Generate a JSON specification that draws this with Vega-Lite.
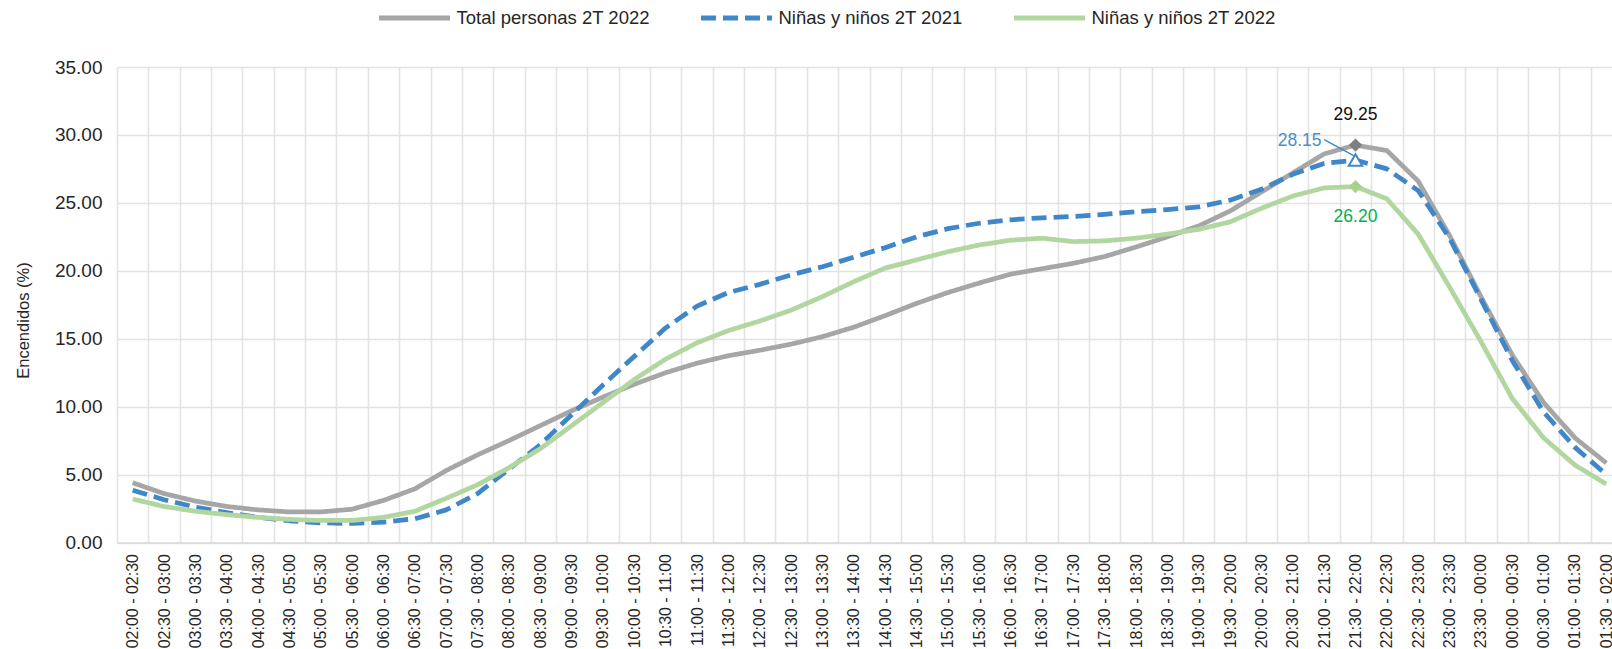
{
  "$schema": "https://vega.github.io/schema/vega-lite/v6.json",
  "width": 1495,
  "height": 475.5,
  "autosize": {"type": "none"},
  "padding": {"left": 117, "top": 67, "right": 0, "bottom": 106.5},
  "background": "white",
  "config": {
    "view": {"stroke": null},
    "font": "Liberation Sans",
    "legend": {
      "orient": "none",
      "legendX": 259.5,
      "legendY": -87,
      "direction": "horizontal",
      "columns": 3,
      "columnPadding": 40,
      "symbolType": "stroke",
      "symbolSize": 5041,
      "symbolStrokeWidth": 5,
      "labelFont": "Liberation Sans",
      "labelFontSize": 18.5,
      "labelColor": "#262626",
      "labelLimit": 400,
      "labelOffset": 4,
      "padding": 0
    }
  },
  "datasets": {
    "series": [
      {"t": "02:00 - 02:30", "s": "Total personas 2T 2022", "v": 4.40},
      {"t": "02:30 - 03:00", "s": "Total personas 2T 2022", "v": 3.60},
      {"t": "03:00 - 03:30", "s": "Total personas 2T 2022", "v": 3.05},
      {"t": "03:30 - 04:00", "s": "Total personas 2T 2022", "v": 2.65},
      {"t": "04:00 - 04:30", "s": "Total personas 2T 2022", "v": 2.40},
      {"t": "04:30 - 05:00", "s": "Total personas 2T 2022", "v": 2.25},
      {"t": "05:00 - 05:30", "s": "Total personas 2T 2022", "v": 2.25},
      {"t": "05:30 - 06:00", "s": "Total personas 2T 2022", "v": 2.45},
      {"t": "06:00 - 06:30", "s": "Total personas 2T 2022", "v": 3.10},
      {"t": "06:30 - 07:00", "s": "Total personas 2T 2022", "v": 3.95},
      {"t": "07:00 - 07:30", "s": "Total personas 2T 2022", "v": 5.30},
      {"t": "07:30 - 08:00", "s": "Total personas 2T 2022", "v": 6.45},
      {"t": "08:00 - 08:30", "s": "Total personas 2T 2022", "v": 7.50},
      {"t": "08:30 - 09:00", "s": "Total personas 2T 2022", "v": 8.60},
      {"t": "09:00 - 09:30", "s": "Total personas 2T 2022", "v": 9.70},
      {"t": "09:30 - 10:00", "s": "Total personas 2T 2022", "v": 10.70},
      {"t": "10:00 - 10:30", "s": "Total personas 2T 2022", "v": 11.65},
      {"t": "10:30 - 11:00", "s": "Total personas 2T 2022", "v": 12.50},
      {"t": "11:00 - 11:30", "s": "Total personas 2T 2022", "v": 13.20},
      {"t": "11:30 - 12:00", "s": "Total personas 2T 2022", "v": 13.75},
      {"t": "12:00 - 12:30", "s": "Total personas 2T 2022", "v": 14.15},
      {"t": "12:30 - 13:00", "s": "Total personas 2T 2022", "v": 14.60},
      {"t": "13:00 - 13:30", "s": "Total personas 2T 2022", "v": 15.15},
      {"t": "13:30 - 14:00", "s": "Total personas 2T 2022", "v": 15.85},
      {"t": "14:00 - 14:30", "s": "Total personas 2T 2022", "v": 16.70},
      {"t": "14:30 - 15:00", "s": "Total personas 2T 2022", "v": 17.60},
      {"t": "15:00 - 15:30", "s": "Total personas 2T 2022", "v": 18.40},
      {"t": "15:30 - 16:00", "s": "Total personas 2T 2022", "v": 19.10},
      {"t": "16:00 - 16:30", "s": "Total personas 2T 2022", "v": 19.75},
      {"t": "16:30 - 17:00", "s": "Total personas 2T 2022", "v": 20.15},
      {"t": "17:00 - 17:30", "s": "Total personas 2T 2022", "v": 20.55},
      {"t": "17:30 - 18:00", "s": "Total personas 2T 2022", "v": 21.05},
      {"t": "18:00 - 18:30", "s": "Total personas 2T 2022", "v": 21.75},
      {"t": "18:30 - 19:00", "s": "Total personas 2T 2022", "v": 22.50},
      {"t": "19:00 - 19:30", "s": "Total personas 2T 2022", "v": 23.30},
      {"t": "19:30 - 20:00", "s": "Total personas 2T 2022", "v": 24.40},
      {"t": "20:00 - 20:30", "s": "Total personas 2T 2022", "v": 25.80},
      {"t": "20:30 - 21:00", "s": "Total personas 2T 2022", "v": 27.20},
      {"t": "21:00 - 21:30", "s": "Total personas 2T 2022", "v": 28.60},
      {"t": "21:30 - 22:00", "s": "Total personas 2T 2022", "v": 29.25},
      {"t": "22:00 - 22:30", "s": "Total personas 2T 2022", "v": 28.85},
      {"t": "22:30 - 23:00", "s": "Total personas 2T 2022", "v": 26.60},
      {"t": "23:00 - 23:30", "s": "Total personas 2T 2022", "v": 22.60},
      {"t": "23:30 - 00:00", "s": "Total personas 2T 2022", "v": 18.10},
      {"t": "00:00 - 00:30", "s": "Total personas 2T 2022", "v": 13.80},
      {"t": "00:30 - 01:00", "s": "Total personas 2T 2022", "v": 10.30},
      {"t": "01:00 - 01:30", "s": "Total personas 2T 2022", "v": 7.70},
      {"t": "01:30 - 02:00", "s": "Total personas 2T 2022", "v": 5.85},
      {"t": "02:00 - 02:30", "s": "Niñas y niños 2T 2021", "v": 3.85},
      {"t": "02:30 - 03:00", "s": "Niñas y niños 2T 2021", "v": 3.15},
      {"t": "03:00 - 03:30", "s": "Niñas y niños 2T 2021", "v": 2.60},
      {"t": "03:30 - 04:00", "s": "Niñas y niños 2T 2021", "v": 2.20},
      {"t": "04:00 - 04:30", "s": "Niñas y niños 2T 2021", "v": 1.85},
      {"t": "04:30 - 05:00", "s": "Niñas y niños 2T 2021", "v": 1.60},
      {"t": "05:00 - 05:30", "s": "Niñas y niños 2T 2021", "v": 1.45},
      {"t": "05:30 - 06:00", "s": "Niñas y niños 2T 2021", "v": 1.40},
      {"t": "06:00 - 06:30", "s": "Niñas y niños 2T 2021", "v": 1.50},
      {"t": "06:30 - 07:00", "s": "Niñas y niños 2T 2021", "v": 1.75},
      {"t": "07:00 - 07:30", "s": "Niñas y niños 2T 2021", "v": 2.40},
      {"t": "07:30 - 08:00", "s": "Niñas y niños 2T 2021", "v": 3.60},
      {"t": "08:00 - 08:30", "s": "Niñas y niños 2T 2021", "v": 5.40},
      {"t": "08:30 - 09:00", "s": "Niñas y niños 2T 2021", "v": 7.20},
      {"t": "09:00 - 09:30", "s": "Niñas y niños 2T 2021", "v": 9.40},
      {"t": "09:30 - 10:00", "s": "Niñas y niños 2T 2021", "v": 11.60},
      {"t": "10:00 - 10:30", "s": "Niñas y niños 2T 2021", "v": 13.70},
      {"t": "10:30 - 11:00", "s": "Niñas y niños 2T 2021", "v": 15.80},
      {"t": "11:00 - 11:30", "s": "Niñas y niños 2T 2021", "v": 17.40},
      {"t": "11:30 - 12:00", "s": "Niñas y niños 2T 2021", "v": 18.40},
      {"t": "12:00 - 12:30", "s": "Niñas y niños 2T 2021", "v": 19.00},
      {"t": "12:30 - 13:00", "s": "Niñas y niños 2T 2021", "v": 19.70},
      {"t": "13:00 - 13:30", "s": "Niñas y niños 2T 2021", "v": 20.30},
      {"t": "13:30 - 14:00", "s": "Niñas y niños 2T 2021", "v": 21.00},
      {"t": "14:00 - 14:30", "s": "Niñas y niños 2T 2021", "v": 21.70},
      {"t": "14:30 - 15:00", "s": "Niñas y niños 2T 2021", "v": 22.50},
      {"t": "15:00 - 15:30", "s": "Niñas y niños 2T 2021", "v": 23.10},
      {"t": "15:30 - 16:00", "s": "Niñas y niños 2T 2021", "v": 23.50},
      {"t": "16:00 - 16:30", "s": "Niñas y niños 2T 2021", "v": 23.75},
      {"t": "16:30 - 17:00", "s": "Niñas y niños 2T 2021", "v": 23.90},
      {"t": "17:00 - 17:30", "s": "Niñas y niños 2T 2021", "v": 24.00},
      {"t": "17:30 - 18:00", "s": "Niñas y niños 2T 2021", "v": 24.15},
      {"t": "18:00 - 18:30", "s": "Niñas y niños 2T 2021", "v": 24.35},
      {"t": "18:30 - 19:00", "s": "Niñas y niños 2T 2021", "v": 24.50},
      {"t": "19:00 - 19:30", "s": "Niñas y niños 2T 2021", "v": 24.70},
      {"t": "19:30 - 20:00", "s": "Niñas y niños 2T 2021", "v": 25.20},
      {"t": "20:00 - 20:30", "s": "Niñas y niños 2T 2021", "v": 26.00},
      {"t": "20:30 - 21:00", "s": "Niñas y niños 2T 2021", "v": 27.10},
      {"t": "21:00 - 21:30", "s": "Niñas y niños 2T 2021", "v": 27.90},
      {"t": "21:30 - 22:00", "s": "Niñas y niños 2T 2021", "v": 28.15},
      {"t": "22:00 - 22:30", "s": "Niñas y niños 2T 2021", "v": 27.50},
      {"t": "22:30 - 23:00", "s": "Niñas y niños 2T 2021", "v": 25.90},
      {"t": "23:00 - 23:30", "s": "Niñas y niños 2T 2021", "v": 22.40},
      {"t": "23:30 - 00:00", "s": "Niñas y niños 2T 2021", "v": 17.90},
      {"t": "00:00 - 00:30", "s": "Niñas y niños 2T 2021", "v": 13.40},
      {"t": "00:30 - 01:00", "s": "Niñas y niños 2T 2021", "v": 9.60},
      {"t": "01:00 - 01:30", "s": "Niñas y niños 2T 2021", "v": 7.00},
      {"t": "01:30 - 02:00", "s": "Niñas y niños 2T 2021", "v": 5.00},
      {"t": "02:00 - 02:30", "s": "Niñas y niños 2T 2022", "v": 3.20},
      {"t": "02:30 - 03:00", "s": "Niñas y niños 2T 2022", "v": 2.65},
      {"t": "03:00 - 03:30", "s": "Niñas y niños 2T 2022", "v": 2.30},
      {"t": "03:30 - 04:00", "s": "Niñas y niños 2T 2022", "v": 2.05},
      {"t": "04:00 - 04:30", "s": "Niñas y niños 2T 2022", "v": 1.85},
      {"t": "04:30 - 05:00", "s": "Niñas y niños 2T 2022", "v": 1.70},
      {"t": "05:00 - 05:30", "s": "Niñas y niños 2T 2022", "v": 1.62},
      {"t": "05:30 - 06:00", "s": "Niñas y niños 2T 2022", "v": 1.62},
      {"t": "06:00 - 06:30", "s": "Niñas y niños 2T 2022", "v": 1.85},
      {"t": "06:30 - 07:00", "s": "Niñas y niños 2T 2022", "v": 2.30},
      {"t": "07:00 - 07:30", "s": "Niñas y niños 2T 2022", "v": 3.25},
      {"t": "07:30 - 08:00", "s": "Niñas y niños 2T 2022", "v": 4.25},
      {"t": "08:00 - 08:30", "s": "Niñas y niños 2T 2022", "v": 5.50},
      {"t": "08:30 - 09:00", "s": "Niñas y niños 2T 2022", "v": 6.90},
      {"t": "09:00 - 09:30", "s": "Niñas y niños 2T 2022", "v": 8.60},
      {"t": "09:30 - 10:00", "s": "Niñas y niños 2T 2022", "v": 10.30},
      {"t": "10:00 - 10:30", "s": "Niñas y niños 2T 2022", "v": 12.00},
      {"t": "10:30 - 11:00", "s": "Niñas y niños 2T 2022", "v": 13.50},
      {"t": "11:00 - 11:30", "s": "Niñas y niños 2T 2022", "v": 14.70},
      {"t": "11:30 - 12:00", "s": "Niñas y niños 2T 2022", "v": 15.60},
      {"t": "12:00 - 12:30", "s": "Niñas y niños 2T 2022", "v": 16.30},
      {"t": "12:30 - 13:00", "s": "Niñas y niños 2T 2022", "v": 17.10},
      {"t": "13:00 - 13:30", "s": "Niñas y niños 2T 2022", "v": 18.10},
      {"t": "13:30 - 14:00", "s": "Niñas y niños 2T 2022", "v": 19.20},
      {"t": "14:00 - 14:30", "s": "Niñas y niños 2T 2022", "v": 20.20},
      {"t": "14:30 - 15:00", "s": "Niñas y niños 2T 2022", "v": 20.80},
      {"t": "15:00 - 15:30", "s": "Niñas y niños 2T 2022", "v": 21.40},
      {"t": "15:30 - 16:00", "s": "Niñas y niños 2T 2022", "v": 21.90},
      {"t": "16:00 - 16:30", "s": "Niñas y niños 2T 2022", "v": 22.25},
      {"t": "16:30 - 17:00", "s": "Niñas y niños 2T 2022", "v": 22.40},
      {"t": "17:00 - 17:30", "s": "Niñas y niños 2T 2022", "v": 22.15},
      {"t": "17:30 - 18:00", "s": "Niñas y niños 2T 2022", "v": 22.20},
      {"t": "18:00 - 18:30", "s": "Niñas y niños 2T 2022", "v": 22.40},
      {"t": "18:30 - 19:00", "s": "Niñas y niños 2T 2022", "v": 22.70},
      {"t": "19:00 - 19:30", "s": "Niñas y niños 2T 2022", "v": 23.05},
      {"t": "19:30 - 20:00", "s": "Niñas y niños 2T 2022", "v": 23.60},
      {"t": "20:00 - 20:30", "s": "Niñas y niños 2T 2022", "v": 24.60},
      {"t": "20:30 - 21:00", "s": "Niñas y niños 2T 2022", "v": 25.50},
      {"t": "21:00 - 21:30", "s": "Niñas y niños 2T 2022", "v": 26.10},
      {"t": "21:30 - 22:00", "s": "Niñas y niños 2T 2022", "v": 26.20},
      {"t": "22:00 - 22:30", "s": "Niñas y niños 2T 2022", "v": 25.30},
      {"t": "22:30 - 23:00", "s": "Niñas y niños 2T 2022", "v": 22.70},
      {"t": "23:00 - 23:30", "s": "Niñas y niños 2T 2022", "v": 18.80},
      {"t": "23:30 - 00:00", "s": "Niñas y niños 2T 2022", "v": 14.80},
      {"t": "00:00 - 00:30", "s": "Niñas y niños 2T 2022", "v": 10.60},
      {"t": "00:30 - 01:00", "s": "Niñas y niños 2T 2022", "v": 7.70},
      {"t": "01:00 - 01:30", "s": "Niñas y niños 2T 2022", "v": 5.70},
      {"t": "01:30 - 02:00", "s": "Niñas y niños 2T 2022", "v": 4.30}
    ],
    "peaks": [
      {"t": "21:30 - 22:00", "s": "Total personas 2T 2022", "v": 29.25},
      {"t": "21:30 - 22:00", "s": "Niñas y niños 2T 2021", "v": 28.15},
      {"t": "21:30 - 22:00", "s": "Niñas y niños 2T 2022", "v": 26.20}
    ],
    "leader": [
      {"t": "21:00 - 21:30", "v": 29.65},
      {"t": "21:30 - 22:00", "v": 28.4}
    ]
  },
  "encoding": {
    "x": {
      "field": "t",
      "type": "ordinal",
      "sort": null,
      "scale": {"type": "band", "paddingInner": 0, "paddingOuter": 0, "range": [0, 1505]},
      "axis": {
        "title": null,
        "labelAngle": -90,
        "labelFontSize": 16,
        "labelColor": "#262626",
        "labelPadding": 11,
        "labelOverlap": false,
        "labelLimit": 200,
        "ticks": false,
        "tickBand": "extent",
        "grid": true,
        "gridColor": "#e3e3e3",
        "gridWidth": 1.6,
        "domainColor": "#d9d9d9",
        "domainWidth": 1.6
      }
    },
    "y": {
      "field": "v",
      "type": "quantitative",
      "scale": {"domain": [0, 35], "nice": false, "zero": true},
      "axis": {
        "title": "Encendidos (%)",
        "values": [0, 5, 10, 15, 20, 25, 30, 35],
        "format": ".2f",
        "labelFontSize": 19,
        "labelColor": "#262626",
        "labelPadding": 15,
        "ticks": false,
        "domain": false,
        "grid": true,
        "gridColor": "#e3e3e3",
        "gridWidth": 1.6,
        "titleFontSize": 16.5,
        "titleFontWeight": "normal",
        "titleColor": "#262626",
        "titleX": -86,
        "titleY": 253
      }
    }
  },
  "layer": [
    {
      "data": {"name": "series"},
      "mark": {"type": "line", "strokeWidth": 4.75, "strokeCap": "butt", "strokeJoin": "round"},
      "encoding": {
        "color": {
          "field": "s",
          "type": "nominal",
          "scale": {
            "domain": ["Total personas 2T 2022", "Niñas y niños 2T 2021", "Niñas y niños 2T 2022"],
            "range": ["#a6a6a6", "#3f87c9", "#b2d69f"]
          },
          "legend": {"title": null}
        },
        "strokeDash": {
          "field": "s",
          "type": "nominal",
          "scale": {
            "domain": ["Total personas 2T 2022", "Niñas y niños 2T 2021", "Niñas y niños 2T 2022"],
            "range": [[1, 0], [15, 7], [1, 0]]
          },
          "legend": {"title": null}
        }
      }
    },
    {
      "data": {"name": "leader"},
      "mark": {"type": "line", "color": "#3f87c9", "strokeWidth": 1.5},
      "encoding": {}
    },
    {
      "data": {"name": "peaks"},
      "transform": [{"filter": "datum.s === 'Total personas 2T 2022'"}],
      "mark": {"type": "point", "shape": "diamond", "filled": true, "fill": "#7f7f7f", "strokeWidth": 0, "size": 175, "opacity": 1}
    },
    {
      "data": {"name": "peaks"},
      "transform": [{"filter": "datum.s === 'Niñas y niños 2T 2021'"}],
      "mark": {"type": "point", "shape": "triangle-up", "filled": true, "fill": "white", "stroke": "#3f87c9", "strokeWidth": 2, "size": 180, "opacity": 1}
    },
    {
      "data": {"name": "peaks"},
      "transform": [{"filter": "datum.s === 'Niñas y niños 2T 2022'"}],
      "mark": {"type": "point", "shape": "diamond", "filled": true, "fill": "#a9d18e", "strokeWidth": 0, "size": 175, "opacity": 1}
    },
    {
      "data": {"name": "peaks"},
      "transform": [{"filter": "datum.s === 'Total personas 2T 2022'"}],
      "mark": {"type": "text", "fontSize": 17.5, "color": "#111111", "dy": -30, "baseline": "middle"},
      "encoding": {"text": {"field": "v", "type": "quantitative", "format": ".2f"}}
    },
    {
      "data": {"name": "peaks"},
      "transform": [{"filter": "datum.s === 'Niñas y niños 2T 2021'"}],
      "mark": {"type": "text", "fontSize": 17.5, "color": "#4a90d0", "dx": -34, "dy": -19, "align": "right", "baseline": "middle"},
      "encoding": {"text": {"field": "v", "type": "quantitative", "format": ".2f"}}
    },
    {
      "data": {"name": "peaks"},
      "transform": [{"filter": "datum.s === 'Niñas y niños 2T 2022'"}],
      "mark": {"type": "text", "fontSize": 17.5, "color": "#00b050", "dy": 30, "baseline": "middle"},
      "encoding": {"text": {"field": "v", "type": "quantitative", "format": ".2f"}}
    }
  ]
}
